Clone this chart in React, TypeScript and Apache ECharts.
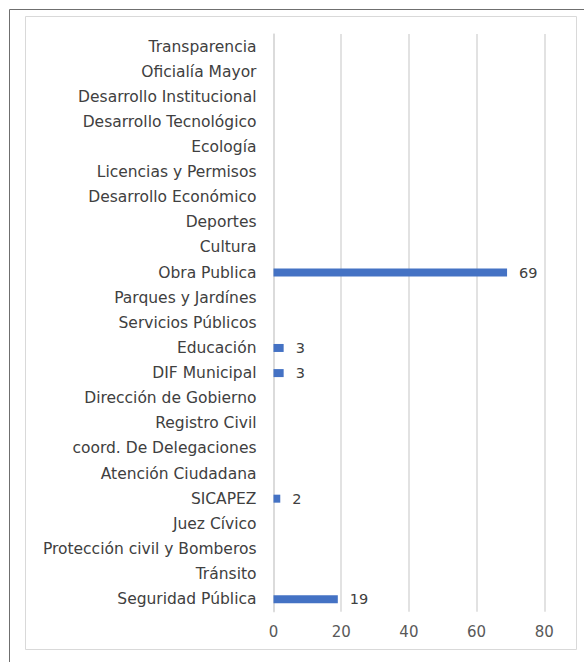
import React, { useEffect, useRef } from "react";
import * as echarts from "echarts";

const categories = [
  "Transparencia",
  "Oficialía Mayor",
  "Desarrollo Institucional",
  "Desarrollo Tecnológico",
  "Ecología",
  "Licencias y Permisos",
  "Desarrollo Económico",
  "Deportes",
  "Cultura",
  "Obra Publica",
  "Parques y Jardínes",
  "Servicios Públicos",
  "Educación",
  "DIF Municipal",
  "Dirección de Gobierno",
  "Registro Civil",
  "coord. De Delegaciones",
  "Atención Ciudadana",
  "SICAPEZ",
  "Juez Cívico",
  "Protección civil y Bomberos",
  "Tránsito",
  "Seguridad Pública",
];

const values: (number | null)[] = [
  null, null, null, null, null, null, null, null, null, 69,
  null, null, 3, 3, null, null, null, null, 2, null, null, null, 19,
];

const xTicks = { min: 0, max: 80, interval: 20 };

export default function App() {
  const ref = useRef<HTMLDivElement>(null);
  useEffect(() => {
    if (!ref.current) return;
    const chart = echarts.init(ref.current, undefined, { renderer: "svg" });
    const font = "'DejaVu Sans', sans-serif";
    chart.setOption({
      animation: false,
      backgroundColor: "#ffffff",
      graphic: [
        {
          type: "rect",
          shape: { x: 9.5, y: 9.5, width: 700, height: 700 },
          style: { fill: "none", stroke: "#6f6f6f", lineWidth: 1 },
          silent: true,
        },
        {
          type: "rect",
          shape: { x: 25.5, y: 16.5, width: 551, height: 633 },
          style: { fill: "none", stroke: "#d9d9d9", lineWidth: 1 },
          silent: true,
        },
      ],
      grid: { left: 273.5, right: 39.7, top: 34, bottom: 50.3, containLabel: false },
      xAxis: {
        type: "value",
        min: xTicks.min,
        max: xTicks.max,
        interval: xTicks.interval,
        axisLine: { show: false },
        axisTick: { show: false },
        splitLine: { show: true, lineStyle: { color: "#d9d9d9", width: 1.5 } },
        axisLabel: { color: "#595959", fontSize: 15, fontFamily: font, margin: 13 },
      },
      yAxis: {
        type: "category",
        data: categories,
        inverse: true,
        axisLine: { show: true, lineStyle: { color: "#d9d9d9", width: 1.5 } },
        axisTick: { show: false },
        axisLabel: { color: "#404040", fontSize: 15.5, fontFamily: font, margin: 17 },
      },
      series: [
        {
          type: "bar",
          data: values,
          barWidth: 8,
          itemStyle: { color: "#4472c4" },
          label: {
            show: true,
            position: "right",
            distance: 12,
            color: "#404040",
            fontSize: 14.5,
            fontFamily: font,
          },
        },
      ],
    });
    return () => chart.dispose();
  }, []);
  return <div ref={ref} style={{ width: 584, height: 662, position: "fixed", left: 0, top: 0 }} />;
}
